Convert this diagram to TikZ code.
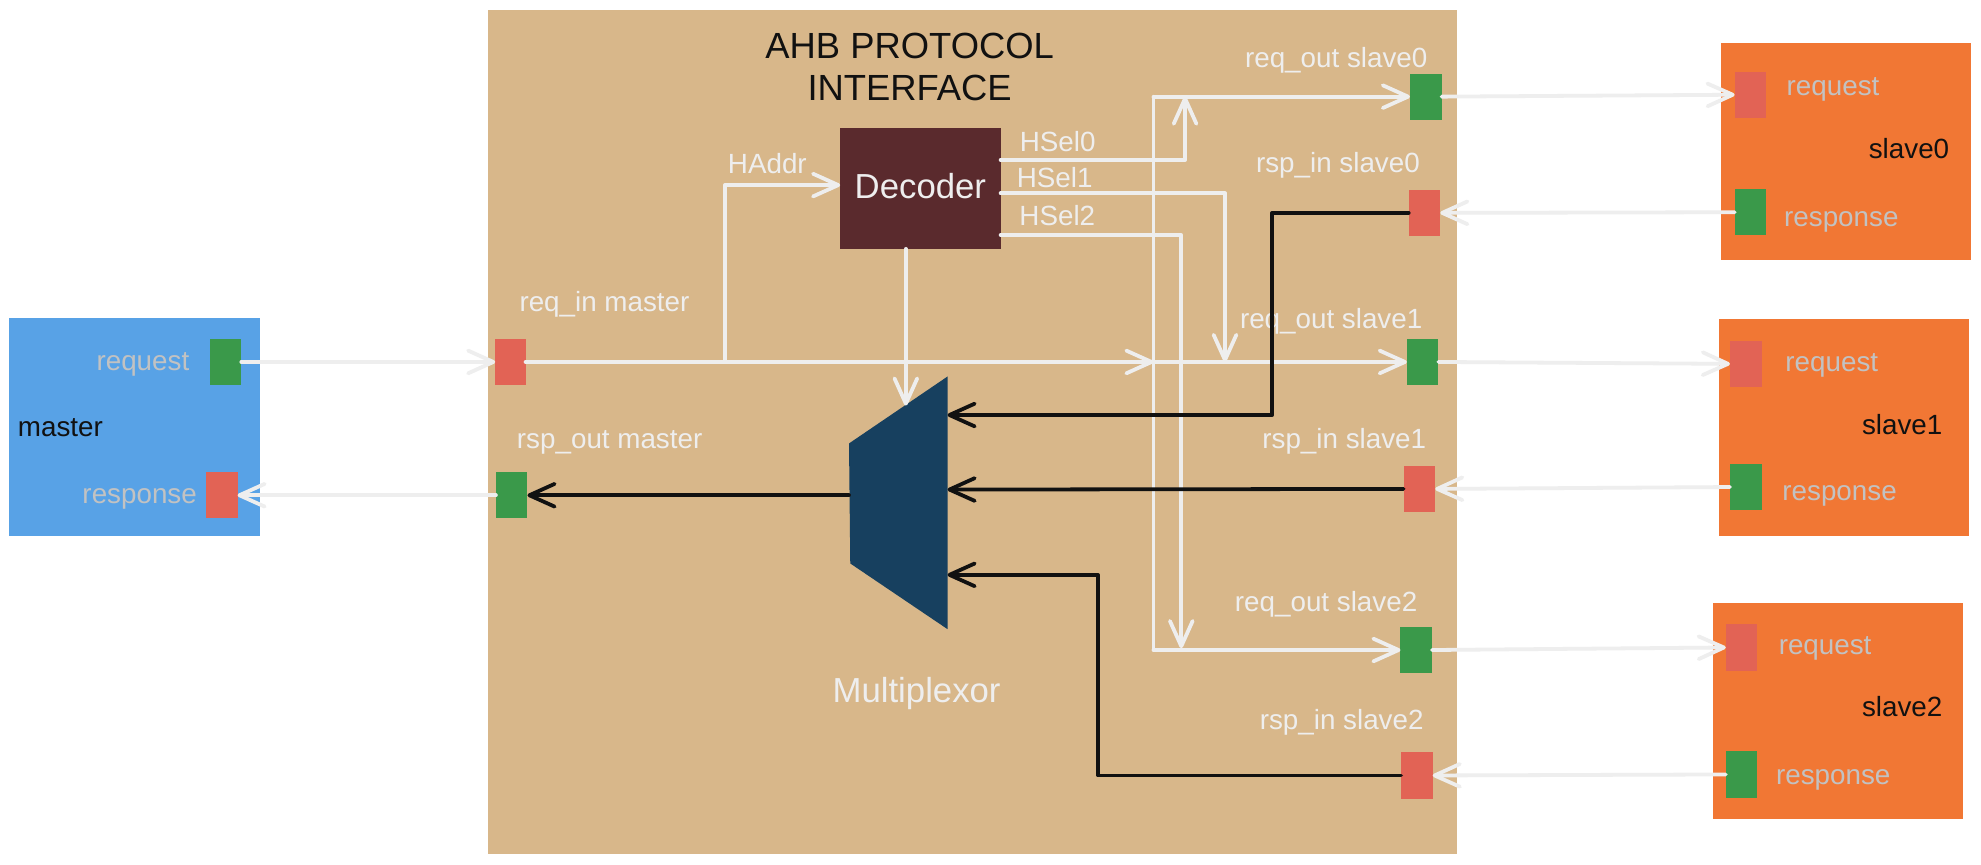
\documentclass[tikz,border=0pt]{standalone}
\usepackage{fontspec}
\setmainfont{Liberation Sans}
\usetikzlibrary{arrows.meta}
\definecolor{cTan}{HTML}{D8B78A}
\definecolor{cBlue}{HTML}{58A2E6}
\definecolor{cOrange}{HTML}{F17734}
\definecolor{cGreen}{HTML}{3A994A}
\definecolor{cRed}{HTML}{E26355}
\definecolor{cDec}{HTML}{5A2A2D}
\definecolor{cMux}{HTML}{17405F}
\definecolor{cWhite}{HTML}{EEEEEE}
\definecolor{cGray}{HTML}{C2C2C2}
\definecolor{cBlack}{HTML}{111111}
\begin{document}
\begin{tikzpicture}[x=1pt,y=-1pt,
  box/.style={draw=none, inner sep=0pt, outer sep=0pt, rectangle},
  port/.style={box, minimum width=25pt, minimum height=36.5pt},
  gport/.style={port, fill=cGreen},
  rport/.style={port, fill=cRed},
  lbl/.style={inner sep=0pt, font=\fontsize{22}{26}\selectfont, text=cWhite},
  glbl/.style={inner sep=0pt, font=\fontsize{22}{26}\selectfont, text=cGray},
  blbl/.style={inner sep=0pt, font=\fontsize{22}{26}\selectfont, text=cBlack},
  wire/.style={draw=cWhite, line width=3pt, line cap=round, line join=round},
  bwire/.style={draw=cBlack, line width=3pt, line cap=round, line join=round},
  arr/.style={-{Straight Barb[length=20pt,width=18pt,round]}}
]
\useasboundingbox (0,0) rectangle (1568,684);
\fill[white] (0,0) rectangle (1568,684);

% big boxes
\node[box, fill=cTan, minimum width=767pt, minimum height=668pt] (ahb) at (769.5,342) {};
\node[box, fill=cBlue, minimum width=199pt, minimum height=172pt] (master) at (106.5,338) {};
\node[box, fill=cOrange, minimum width=198pt, minimum height=172pt] (slave0) at (1461,120) {};
\node[box, fill=cOrange, minimum width=198pt, minimum height=172pt] (slave1) at (1459.3,338.3) {};
\node[box, fill=cOrange, minimum width=198pt, minimum height=171pt] (slave2) at (1455,562.5) {};

% title
\node[inner sep=0pt, font=\fontsize{28.8}{34}\selectfont, text=cBlack] (title) at (720,36) {AHB PROTOCOL};
\node[inner sep=0pt, font=\fontsize{28.8}{34}\selectfont, text=cBlack] (title2) at (720,69.7) {INTERFACE};

% decoder
\node[box, fill=cDec, minimum width=127pt, minimum height=96pt] (dec) at (728.5,149) {};
\node[inner sep=0pt, font=\fontsize{27.5}{32}\selectfont, text=cWhite] (dect) at (728.5,147) {Decoder};

% multiplexor
\fill[cMux] (750,298) -- (750,498) -- (673,446) -- (672,351) -- cycle;
\node[inner sep=0pt, font=\fontsize{27.5}{32}\selectfont, text=cWhite] (muxt) at (725.5,549) {Multiplexor};
\coordinate (mi0) at (750,328.5);
\coordinate (mi1) at (750,387.5);
\coordinate (mi2) at (750,455);
\coordinate (mo) at (672,392);
\coordinate (mtop) at (717,321);
\coordinate (decout) at (717,197);

% master ports
\node[gport] (mreq) at (178.5,286.5) {};
\node[rport] (mrsp) at (175.5,392) {};
\node[glbl, anchor=east] (mreqt) at (150,288.5) {request};
\node[glbl, anchor=east] (mrspt) at (156,394.5) {response};
\node[blbl, anchor=west] (mastert) at (14,338.5) {master};

% interface ports
\node[rport, minimum width=24pt] (reqin) at (404,286.5) {};
\node[gport] (rspout) at (405,392) {};
\node[lbl, anchor=west] (reqint) at (411,241) {req\_in master};
\node[lbl, anchor=west] (rspoutt) at (409,350) {rsp\_out master};

\node[gport] (rq0) at (1128.5,76.5) {};
\node[rport] (ri0) at (1127.5,168.5) {};
\node[gport] (rq1) at (1126,286.5) {};
\node[rport] (ri1) at (1123.5,387) {};
\node[gport] (rq2) at (1121,514.5) {};
\node[rport] (ri2) at (1121.5,613.8) {};
\node[lbl, anchor=east] (rq0t) at (1130,48) {req\_out slave0};
\node[lbl, anchor=east] (ri0t) at (1124,131) {rsp\_in slave0};
\node[lbl, anchor=east] (rq1t) at (1126,254) {req\_out slave1};
\node[lbl, anchor=east] (ri1t) at (1129,349) {rsp\_in slave1};
\node[lbl, anchor=east] (rq2t) at (1122,478) {req\_out slave2};
\node[lbl, anchor=east] (ri2t) at (1127,572) {rsp\_in slave2};

% slave ports
\node[rport] (s0req) at (1385.5,75) {};
\node[gport] (s0rsp) at (1385.5,168) {};
\node[rport] (s1req) at (1381.75,288) {};
\node[gport] (s1rsp) at (1381.75,385.5) {};
\node[rport] (s2req) at (1378.5,512.5) {};
\node[gport] (s2rsp) at (1378.5,613) {};
\node[glbl, anchor=west] (s0reqt) at (1414,70.5) {request};
\node[glbl, anchor=west] (s0rspt) at (1412,175.5) {response};
\node[blbl, anchor=east] (s0t) at (1543,117.5) {slave0};
\node[glbl, anchor=west] (s1reqt) at (1413,289.5) {request};
\node[glbl, anchor=west] (s1rspt) at (1410.6,392.5) {response};
\node[blbl, anchor=east] (s1t) at (1537.6,336) {slave1};
\node[glbl, anchor=west] (s2reqt) at (1407.7,513) {request};
\node[glbl, anchor=west] (s2rspt) at (1405.6,617) {response};
\node[blbl, anchor=east] (s2t) at (1537.6,559.5) {slave2};

% HSel / HAddr labels
\node[lbl, anchor=west] (haddrt) at (576,129.5) {HAddr};
\node[lbl, anchor=west] (hs0t) at (807,112) {HSel0};
\node[lbl, anchor=west] (hs1t) at (804.6,140.5) {HSel1};
\node[lbl, anchor=west] (hs2t) at (806.7,170.5) {HSel2};

% routing coordinates
\coordinate (hbr) at (574,286.5);
\coordinate (hin) at (665,146.5);
\coordinate (jr0) at (913,76.5);
\coordinate (jr1) at (913,286.5);
\coordinate (jr2) at (913,514.5);
\coordinate (hs0) at (792,126.6);
\coordinate (hs1) at (792,153);
\coordinate (hs2) at (792,186);
\coordinate (hs0e) at (938,76.5);
\coordinate (hs1e) at (969.6,286.5);
\coordinate (hs2e) at (935,513);

% white wires
\draw[wire, arr] (mreq.east) -- (reqin.west);
\draw[wire, arr] (rspout.west) -- (mrsp.east);
\draw[wire, arr] (reqin.east) -- (jr1);
\draw[wire, arr] (hbr) |- (hin);
\draw[wire] (jr0) -- (jr2);
\draw[wire, arr] (jr0) -- (rq0.west);
\draw[wire, arr] (jr1) -- (rq1.west);
\draw[wire, arr] (jr2) -- (rq2.west);
\draw[wire, arr] (hs0) -| (hs0e);
\draw[wire, arr] (hs1) -| (hs1e);
\draw[wire, arr] (hs2) -| (hs2e);
\draw[wire, arr] (decout) -- (mtop);
\draw[wire, arr] (rq0.east) -- (s0req.west);
\draw[wire, arr] (rq1.east) -- (s1req.west);
\draw[wire, arr] (rq2.east) -- (s2req.west);
\draw[wire, arr] (s0rsp.west) -- (ri0.east);
\draw[wire, arr] (s1rsp.west) -- (ri1.east);
\draw[wire, arr] (s2rsp.west) -- (ri2.east);

% black wires
\draw[bwire, arr] (ri0.west) -| (1007,328.5) -- (mi0);
\draw[bwire, arr] (ri1.west) -- (mi1);
\draw[bwire, arr] (ri2.west) -| (869,455) -- (mi2);
\draw[bwire, arr] (mo) -- (rspout.east);
\end{tikzpicture}
\end{document}
